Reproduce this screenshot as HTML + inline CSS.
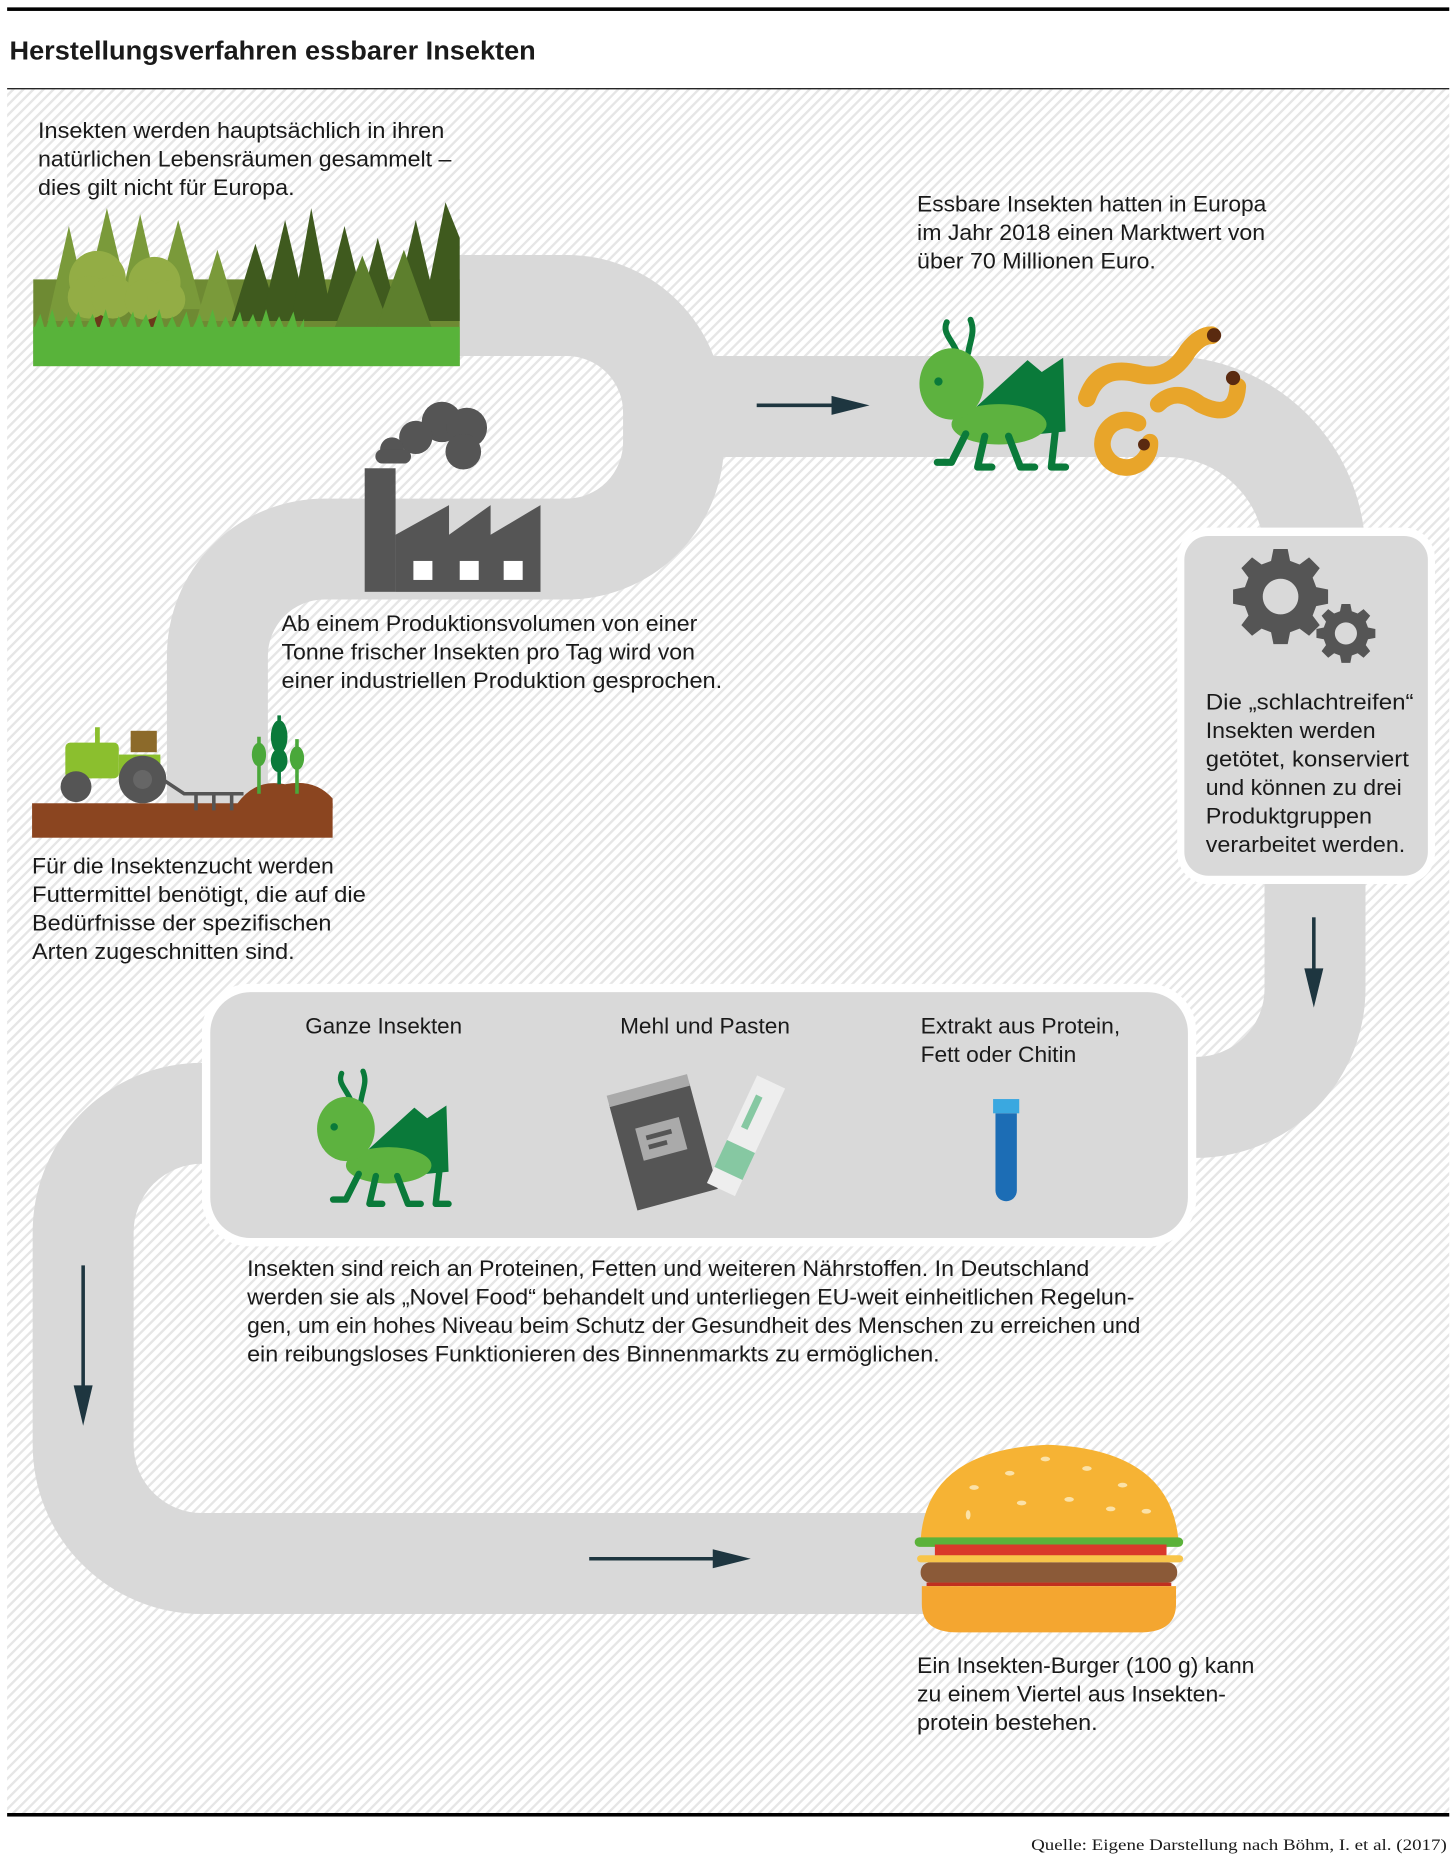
<!DOCTYPE html>
<html><head><meta charset="utf-8"><style>
html,body{margin:0;padding:0;background:#fff}
svg{display:block}
text{font-family:"Liberation Sans",sans-serif;fill:#1a1a1a}
</style></head><body>
<svg width="1454" height="1856" viewBox="0 0 1224 1562" xmlns="http://www.w3.org/2000/svg">
<defs>
<pattern id="hatch" width="6" height="6" patternUnits="userSpaceOnUse" patternTransform="rotate(-45)">
<rect width="6" height="6" fill="#ffffff"/><rect width="6" height="2" fill="#e6e6e6"/>
</pattern>
<g id="hopper">
<path d="M33 32 C28 20 20 15 24 6 M42 32 C44 20 48 14 44 4" stroke="#0a7a3a" stroke-width="5" fill="none" stroke-linecap="round"/>
<polygon points="48,78 92,38 104,48 122,36 124,98 62,104" fill="#0a7a3a"/>
<ellipse cx="68" cy="92" rx="40" ry="17" fill="#5db23f"/>
<ellipse cx="28" cy="58" rx="27" ry="30" fill="#5db23f"/>
<circle cx="17" cy="56" r="3.5" fill="#0a7a3a"/>
<path d="M40 100 L28 124 H16 M56 102 L50 128 H62 M76 102 L86 128 H98 M116 92 L112 128 H124" stroke="#0a7a3a" stroke-width="6" fill="none" stroke-linecap="round" stroke-linejoin="round"/>
</g>
<g id="gear">
<path fill="#555" fill-rule="evenodd" d="M-6 -40 H6 L8 -30 L16 -27 L24 -33 L33 -24 L27 -16 L30 -8 L40 -6 V6 L30 8 L27 16 L33 24 L24 33 L16 27 L8 30 L6 40 H-6 L-8 30 L-16 27 L-24 33 L-33 24 L-27 16 L-30 8 L-40 6 V-6 L-30 -8 L-27 -16 L-33 -24 L-24 -33 L-16 -27 L-8 -30 Z M0 -15 A15 15 0 1 0 0.01 -15 Z"/>
</g>
</defs>
<rect x="0" y="0" width="1224" height="1562" fill="#fff"/>
<rect x="6" y="75" width="1214" height="1452" fill="url(#hatch)"/>
<rect x="6" y="6" width="1214" height="3" fill="#000"/>
<rect x="6" y="74" width="1214" height="1" fill="#000"/>
<rect x="6" y="1526" width="1214" height="3" fill="#000"/>
<text x="8" y="50" font-size="22" font-weight="bold" textLength="443" lengthAdjust="spacingAndGlyphs">Herstellungsverfahren essbarer Insekten</text>
<text x="868" y="1557" font-size="13" textLength="350" lengthAdjust="spacingAndGlyphs" style="font-family:'Liberation Serif',serif">Quelle: Eigene Darstellung nach Böhm, I. et al. (2017)</text>

<!-- road -->
<g fill="none" stroke="#d9d9d9" stroke-width="85">
<path d="M380 257 H477 A90 90 0 0 1 567 347 V372 A90 90 0 0 1 477 462 H273 A90 90 0 0 0 183 552 V690"/>
<path d="M567 342 H982 A125 125 0 0 1 1107 467 V832 A100 100 0 0 1 1007 932 H990"/>
<path d="M190 937 H170 A100 100 0 0 0 70 1037 V1216 A100 100 0 0 0 170 1316 H800"/>
</g>

<!-- arrows -->
<g stroke="#1e3640" stroke-width="3" fill="#1e3640">
<line x1="637" y1="341" x2="705" y2="341"/><polygon points="700,333 732,341 700,349" stroke="none"/>
<line x1="1106" y1="772" x2="1106" y2="820"/><polygon points="1098,815 1106,848 1114,815" stroke="none"/>
<line x1="70" y1="1065" x2="70" y2="1170"/><polygon points="62,1166 70,1200 78,1166" stroke="none"/>
<line x1="496" y1="1312" x2="605" y2="1312"/><polygon points="600,1304 632,1312 600,1320" stroke="none"/>
</g>

<!-- forest -->
<g>
<rect x="28" y="235" width="359" height="73" fill="#6e8a33"/>
<g fill="#7a9a3a">
<polygon points="40,270 58,190 76,270"/><polygon points="70,260 90,175 110,260"/><polygon points="100,260 118,180 136,260"/><polygon points="130,260 150,185 170,260"/><polygon points="165,270 183,210 201,270"/>
</g>
<g fill="#3f5a1e">
<polygon points="195,270 215,205 235,270"/><polygon points="220,270 240,185 260,270"/><polygon points="245,270 262,175 280,270"/><polygon points="270,270 290,190 310,270"/><polygon points="300,270 318,200 336,270"/><polygon points="330,270 350,185 370,270"/><polygon points="355,270 375,170 387,200 387,270"/>
</g>
<g fill="#5d7f2d"><polygon points="280,280 305,215 330,280"/><polygon points="315,280 340,210 365,280"/></g>
<rect x="80" y="255" width="8" height="30" fill="#6b3a1a"/><rect x="125" y="255" width="8" height="30" fill="#6b3a1a"/>
<g fill="#93ad45"><circle cx="82" cy="235" r="24"/><circle cx="75" cy="250" r="18"/><circle cx="95" cy="250" r="18"/><circle cx="130" cy="238" r="22"/><circle cx="122" cy="252" r="17"/><circle cx="140" cy="252" r="16"/></g>
<rect x="28" y="275" width="359" height="33" fill="#58b33a"/>
<path d="M28 278 l6 -14 l4 14 l6 -18 l5 18 l7 -12 l4 12 l6 -16 l5 16 l7 -14 l5 14 l6 -18 l5 18 l6 -12 l5 12 l7 -16 l4 16 l7 -14 l5 14 l6 -18 l5 18 l6 -12 l5 12 l7 -16 l4 16 l7 -14 l5 14 l6 -18 l5 18 l6 -12 l5 12 l7 -16 l4 16 l7 -14 l5 14 l6 -18 l5 18 l6 -12 l5 12 l7 -16 l4 16 l5 -10 V280 Z" fill="#58b33a"/>
</g>

<!-- factory -->
<g fill="#555">
<circle cx="372" cy="355" r="17"/><circle cx="393" cy="360" r="17"/><circle cx="350" cy="368" r="14"/><circle cx="330" cy="378" r="10"/><rect x="316" y="378" width="30" height="12" rx="6"/><circle cx="390" cy="380" r="15"/>
<rect x="307" y="394" width="26" height="104"/>
<polygon points="333,450 378,425 378,450 413,425 413,450 455,425 455,498 333,498"/>
</g>
<g fill="#fff"><rect x="348" y="472" width="16" height="16"/><rect x="387" y="472" width="16" height="16"/><rect x="424" y="472" width="16" height="16"/></g>

<!-- tractor -->
<g>
<rect x="27" y="676" width="253" height="29" fill="#8b4520"/>
<path d="M200 676 Q215 655 240 660 Q265 655 280 672 V680 H200 Z" fill="#8b4520"/>
<rect x="55" y="625" width="45" height="30" rx="4" fill="#8bbf2e"/><rect x="100" y="635" width="35" height="20" fill="#8bbf2e"/>
<rect x="110" y="615" width="22" height="18" fill="#8c6a2a"/><rect x="80" y="612" width="4" height="14" fill="#8bbf2e"/>
<circle cx="64" cy="662" r="13" fill="#555"/><circle cx="120" cy="656" r="20" fill="#555"/><circle cx="120" cy="656" r="8" fill="#666"/>
<path d="M137 656 L155 668 H205 M165 668 v14 M180 668 v14 M195 668 v14" stroke="#555" stroke-width="3" fill="none"/>
<g stroke="#4aa83a" stroke-width="3"><line x1="218" y1="620" x2="218" y2="668"/><line x1="250" y1="622" x2="250" y2="668"/></g>
<g stroke="#0a7a3a" stroke-width="3"><line x1="235" y1="602" x2="235" y2="660"/></g>
<g fill="#4aa83a"><ellipse cx="218" cy="635" rx="6" ry="10"/><ellipse cx="250" cy="638" rx="6" ry="10"/></g>
<g fill="#0a7a3a"><ellipse cx="235" cy="620" rx="7" ry="14"/><ellipse cx="235" cy="640" rx="7" ry="10"/></g>
</g>

<!-- hopper & worms -->
<use href="#hopper" x="773" y="265"/>
<g fill="none" stroke-linecap="round">
<path d="M915 335 Q925 305 960 315 Q985 320 1000 295 Q1010 282 1020 282" stroke="#e8a52a" stroke-width="15"/>
<path d="M975 340 Q990 325 1010 340 Q1040 355 1042 325" stroke="#e8a52a" stroke-width="14"/>
<path d="M958 356 A20 20 0 1 0 968 372" stroke="#e8a52a" stroke-width="14"/>
</g>
<g fill="#5a2a10"><circle cx="1022" cy="282" r="6"/><circle cx="1038" cy="318" r="6"/><circle cx="963" cy="374" r="5"/></g>

<!-- gears box -->
<rect x="991" y="444" width="217" height="300" rx="26" fill="#fff"/>
<rect x="997" y="451" width="205" height="286" rx="20" fill="#d9d9d9"/>
<use href="#gear" x="1078" y="502"/>
<use href="#gear" transform="translate(1133 533) scale(0.62)"/>

<!-- products box -->
<rect x="170" y="828" width="837" height="221" rx="40" fill="#fff"/>
<rect x="177" y="835" width="823" height="207" rx="34" fill="#d9d9d9"/>
<use href="#hopper" transform="translate(266 898) scale(0.9)"/>
<g transform="rotate(-15 555 960)">
<rect x="522" y="920" width="70" height="92" fill="#555"/><rect x="522" y="912" width="70" height="10" fill="#aaa"/>
<rect x="538" y="945" width="38" height="28" fill="#aaa"/><rect x="545" y="953" width="22" height="4" fill="#555"/><rect x="545" y="961" width="16" height="4" fill="#555"/>
</g>
<g transform="rotate(25 625 960)">
<rect x="613" y="905" width="26" height="100" fill="#eee"/><rect x="613" y="965" width="26" height="25" fill="#86c8a2"/><rect x="619" y="920" width="6" height="30" fill="#86c8a2"/>
</g>
<rect x="836" y="925" width="22" height="12" fill="#3aa8e0"/>
<path d="M838 937 H856 V1002 A9 9 0 0 1 838 1002 Z" fill="#1c6db5"/>

<!-- burger -->
<g>
<path d="M775 1296 Q780 1220 882 1216 Q985 1220 992 1296 Z" fill="#f6b334"/>
<rect x="770" y="1294" width="226" height="8" rx="4" fill="#5bb23a"/>
<rect x="787" y="1300" width="195" height="10" fill="#d9392a"/>
<rect x="772" y="1309" width="224" height="6" rx="3" fill="#f8c54a"/>
<rect x="775" y="1315" width="216" height="17" rx="8" fill="#8b5a38"/>
<rect x="780" y="1332" width="206" height="3" fill="#c0301f"/>
<path d="M776 1335 H990 V1350 Q990 1374 960 1374 H806 Q776 1374 776 1350 Z" fill="#f4a630"/>
<g fill="#fbe2a8"><ellipse cx="820" cy="1252" rx="4" ry="2"/><ellipse cx="850" cy="1240" rx="4" ry="2"/><ellipse cx="880" cy="1228" rx="4" ry="2"/><ellipse cx="915" cy="1236" rx="4" ry="2"/><ellipse cx="945" cy="1250" rx="4" ry="2"/><ellipse cx="860" cy="1265" rx="4" ry="2"/><ellipse cx="900" cy="1262" rx="4" ry="2"/><ellipse cx="935" cy="1270" rx="4" ry="2"/><ellipse cx="815" cy="1275" rx="2" ry="4"/><ellipse cx="965" cy="1272" rx="4" ry="2"/></g>
</g>

<!-- texts -->
<g font-size="18.5">
<text x="32" y="116" textLength="342" lengthAdjust="spacingAndGlyphs">Insekten werden hauptsächlich in ihren</text>
<text x="32" y="140" textLength="348" lengthAdjust="spacingAndGlyphs">natürlichen Lebensräumen gesammelt –</text>
<text x="32" y="164" textLength="216" lengthAdjust="spacingAndGlyphs">dies gilt nicht für Europa.</text>

<text x="772" y="178" textLength="294" lengthAdjust="spacingAndGlyphs">Essbare Insekten hatten in Europa</text>
<text x="772" y="202" textLength="293" lengthAdjust="spacingAndGlyphs">im Jahr 2018 einen Marktwert von</text>
<text x="772" y="226" textLength="201" lengthAdjust="spacingAndGlyphs">über 70 Millionen Euro.</text>

<text x="237" y="531" textLength="350" lengthAdjust="spacingAndGlyphs">Ab einem Produktionsvolumen von einer</text>
<text x="237" y="555" textLength="348" lengthAdjust="spacingAndGlyphs">Tonne frischer Insekten pro Tag wird von</text>
<text x="237" y="579" textLength="371" lengthAdjust="spacingAndGlyphs">einer industriellen Produktion gesprochen.</text>

<text x="27" y="735" textLength="254" lengthAdjust="spacingAndGlyphs">Für die Insektenzucht werden</text>
<text x="27" y="759" textLength="281" lengthAdjust="spacingAndGlyphs">Futtermittel benötigt, die auf die</text>
<text x="27" y="783" textLength="252" lengthAdjust="spacingAndGlyphs">Bedürfnisse der spezifischen</text>
<text x="27" y="807" textLength="221" lengthAdjust="spacingAndGlyphs">Arten zugeschnitten sind.</text>

<text x="1015" y="597" textLength="175" lengthAdjust="spacingAndGlyphs">Die „schlachtreifen“</text>
<text x="1015" y="621" textLength="143" lengthAdjust="spacingAndGlyphs">Insekten werden</text>
<text x="1015" y="645" textLength="171" lengthAdjust="spacingAndGlyphs">getötet, konserviert</text>
<text x="1015" y="669" textLength="165" lengthAdjust="spacingAndGlyphs">und können zu drei</text>
<text x="1015" y="693" textLength="140" lengthAdjust="spacingAndGlyphs">Produktgruppen</text>
<text x="1015" y="717" textLength="168" lengthAdjust="spacingAndGlyphs">verarbeitet werden.</text>

<text x="257" y="870" textLength="132" lengthAdjust="spacingAndGlyphs">Ganze Insekten</text>
<text x="522" y="870" textLength="143" lengthAdjust="spacingAndGlyphs">Mehl und Pasten</text>
<text x="775" y="870" textLength="168" lengthAdjust="spacingAndGlyphs">Extrakt aus Protein,</text>
<text x="775" y="894" textLength="131" lengthAdjust="spacingAndGlyphs">Fett oder Chitin</text>

<text x="208" y="1074" textLength="709" lengthAdjust="spacingAndGlyphs">Insekten sind reich an Proteinen, Fetten und weiteren Nährstoffen. In Deutschland</text>
<text x="208" y="1098" textLength="747" lengthAdjust="spacingAndGlyphs">werden sie als „Novel Food“ behandelt und unterliegen EU-weit einheitlichen Regelun-</text>
<text x="208" y="1122" textLength="752" lengthAdjust="spacingAndGlyphs">gen, um ein hohes Niveau beim Schutz der Gesundheit des Menschen zu erreichen und</text>
<text x="208" y="1146" textLength="583" lengthAdjust="spacingAndGlyphs">ein reibungsloses Funktionieren des Binnenmarkts zu ermöglichen.</text>

<text x="772" y="1408" textLength="284" lengthAdjust="spacingAndGlyphs">Ein Insekten-Burger (100 g) kann</text>
<text x="772" y="1432" textLength="260" lengthAdjust="spacingAndGlyphs">zu einem Viertel aus Insekten-</text>
<text x="772" y="1456" textLength="152" lengthAdjust="spacingAndGlyphs">protein bestehen.</text>
</g>
</svg>
</body></html>
